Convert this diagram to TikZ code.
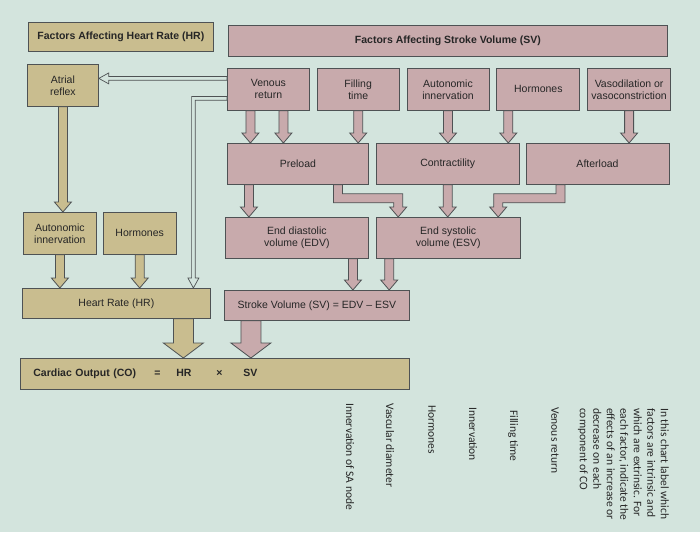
\documentclass[tikz,border=0pt]{standalone}
\usepackage{fontspec}
\setmainfont{Liberation Sans}
\newfontfamily\notefont{Carlito}
\usetikzlibrary{positioning,calc}
\definecolor{chartbg}{HTML}{D3E4DD}
\definecolor{hrtan}{HTML}{C9BD8F}
\definecolor{svpink}{HTML}{C8AAAC}
\definecolor{chartline}{HTML}{4E5254}
\definecolor{charttext}{HTML}{262626}

\tikzset{
  shaftw/.store in=\shaftw, headw/.store in=\headw, headl/.store in=\headl,
  shaftw=4.5pt, headw=8.5pt, headl=10pt,
}

\begin{document}
\begin{tikzpicture}[x=1pt, y=-1pt,
  hrbox/.style={draw=chartline, fill=hrtan, line width=0.8pt, inner sep=1pt, align=center, text=charttext, font=\fontsize{10.5}{12}\selectfont, minimum height=42pt},
  svbox/.style={hrbox, fill=svpink},
  headbox/.style={font=\fontsize{10.5}{12}\selectfont\bfseries},
  notetxt/.style={font=\notefont\fontsize{11.5}{13.5}\selectfont, text=charttext, inner sep=0pt, rotate=-90},
  blkarrow/.style={draw=chartline, line width=0.8pt, to path={let \p1=(\tikztostart), \p2=(\tikztotarget) in
    (\x1-\shaftw,\y1) -- (\x1-\shaftw,\y2+\headl) -- (\x1-\headw,\y2+\headl) -- (\x1,\y2) -- (\x1+\headw,\y2+\headl) -- (\x1+\shaftw,\y2+\headl) -- (\x1+\shaftw,\y1) -- cycle}},
  bendarrow/.style={draw=chartline, line width=0.8pt, to path={let \p1=(\tikztostart), \p2=(\tikztotarget), \n1={sign(\x2-\x1)} in
    ({\x1-(\n1)*\shaftw},\y1) -- ({\x1-(\n1)*\shaftw},\y1-13.5pt-\shaftw) -- ({\x2-(\n1)*\shaftw},\y1-13.5pt-\shaftw) -- ({\x2-(\n1)*\shaftw},\y2+\headl) -- ({\x2-(\n1)*\headw},\y2+\headl) -- (\x2,\y2) -- ({\x2+(\n1)*\headw},\y2+\headl) -- ({\x2+(\n1)*\shaftw},\y2+\headl) -- ({\x2+(\n1)*\shaftw},\y1-13.5pt+\shaftw) -- ({\x1+(\n1)*\shaftw},\y1-13.5pt+\shaftw) -- ({\x1+(\n1)*\shaftw},\y1) -- cycle}},
  thinarrow/.style={draw=chartline, fill=chartbg, line width=0.7pt, shaftw=1.8pt, headw=5.5pt, headl=10pt, to path={let \p1=(\tikztostart), \p2=(\tikztotarget) in
    (\x1,\y1+\shaftw) -- (\x2+\headl,\y1+\shaftw) -- (\x2+\headl,\y1+\headw) -- (\x2,\y1) -- (\x2+\headl,\y1-\headw) -- (\x2+\headl,\y1-\shaftw) -- (\x1,\y1-\shaftw) -- cycle}},
  turnarrow/.style={draw=chartline, fill=chartbg, line width=0.7pt, shaftw=1.8pt, headw=5.5pt, headl=10pt, to path={let \p1=(\tikztostart), \p2=(\tikztotarget) in
    (\x1,\y1+\shaftw) -- (\x2-\shaftw,\y1+\shaftw) -- (\x2-\shaftw,\y2+\headl) -- (\x2-\headw,\y2+\headl) -- (\x2,\y2) -- (\x2+\headw,\y2+\headl) -- (\x2+\shaftw,\y2+\headl) -- (\x2+\shaftw,\y1-\shaftw) -- (\x1,\y1-\shaftw) -- cycle}},
]
\useasboundingbox (0,0) rectangle (700,532);
\fill[chartbg] (0,0) rectangle (700,532);

% Titles
\node[hrbox, headbox, anchor=north west, minimum width=185pt, minimum height=29pt] (hrtitle) at (28,22) {Factors Affecting Heart Rate (HR)};
\node[svbox, headbox, anchor=north west, minimum width=439pt, minimum height=31pt] (svtitle) at (228,25) {Factors Affecting Stroke Volume (SV)};

% First row of factors
\node[hrbox, anchor=north west, minimum width=71pt] (atrial) at (27,64) {Atrial\\reflex};
\node[svbox, anchor=north west, minimum width=82pt] (venous) at (227,68) {Venous\\return};
\node[svbox, minimum width=82pt, right=7pt of venous] (filling) {Filling\\time};
\node[svbox, minimum width=82pt, right=7pt of filling] (autosv) {Autonomic\\innervation};
\node[svbox, minimum width=83pt, right=7pt of autosv] (hormsv) {Hormones};
\node[svbox, minimum width=83pt, right=7pt of hormsv] (vaso) {Vasodilation or\\vasoconstriction};

% Preload, contractility, afterload
\node[svbox, anchor=north west, minimum width=141pt, minimum height=41pt] (preload) at (227,143) {Preload};
\node[svbox, minimum width=143pt, minimum height=41pt, right=7pt of preload] (contract) {Contractility};
\node[svbox, minimum width=143pt, minimum height=41pt, right=6pt of contract] (afterload) {Afterload};

% Third row
\node[hrbox, anchor=north west, minimum width=73pt] (autohr) at (23,212) {Autonomic\\innervation};
\node[hrbox, minimum width=73pt, right=6pt of autohr] (hormhr) {Hormones};
\node[svbox, anchor=north west, minimum width=143pt, minimum height=41pt] (edv) at (225,217) {End diastolic\\volume (EDV)};
\node[svbox, minimum width=144pt, minimum height=41pt, right=7pt of edv] (esv) {End systolic\\volume (ESV)};

% HR, SV and CO
\node[hrbox, anchor=north west, minimum width=188pt, minimum height=30pt] (hr) at (22,288) {Heart Rate (HR)};
\node[svbox, anchor=north west, minimum width=185pt, minimum height=30pt] (sv) at (224,290) {Stroke Volume (SV) = EDV – ESV};
\node[hrbox, headbox, anchor=north west, minimum width=389pt, minimum height=31pt, text width=363pt, align=left] (co) at (20,358) {\makebox[121pt][l]{Cardiac Output (CO)}\makebox[22pt][l]{=}\makebox[40pt][l]{HR}\makebox[27pt][l]{×}SV};

% Block arrows, HR side
\draw[blkarrow, fill=hrtan] (atrial.south) to (autohr.north);
\draw[blkarrow, fill=hrtan] (autohr.south) to (hr.north);
\draw[blkarrow, fill=hrtan] (hormhr.south) to (hr.north);

% Block arrows, SV side
\draw[blkarrow, fill=svpink] ([xshift=-18pt]venous.south) to (preload.north);
\draw[blkarrow, fill=svpink] ([xshift=15pt]venous.south) to (preload.north);
\draw[blkarrow, fill=svpink] (filling.south) to (preload.north);
\draw[blkarrow, fill=svpink] (autosv.south) to (contract.north);
\draw[blkarrow, fill=svpink] ([xshift=-30pt]hormsv.south) to (contract.north);
\draw[blkarrow, fill=svpink] (vaso.south) to (afterload.north);
\draw[blkarrow, fill=svpink] ([xshift=-49pt]preload.south) to (edv.north);
\draw[bendarrow, fill=svpink] ([xshift=40pt]preload.south) to ([xshift=-50pt]esv.north);
\draw[blkarrow, fill=svpink] (contract.south) to (esv.north);
\draw[bendarrow, fill=svpink] ([xshift=-37pt]afterload.south) to ([xshift=50pt]esv.north);
\draw[blkarrow, fill=svpink] ([xshift=56pt]edv.south) to (sv.north);
\draw[blkarrow, fill=svpink] ([xshift=-59pt]esv.south) to (sv.north);

% Into cardiac output
\draw[blkarrow, fill=hrtan, shaftw=10pt, headw=20pt, headl=15pt] ([xshift=67pt]hr.south) to (co.north);
\draw[blkarrow, fill=svpink, shaftw=10pt, headw=20pt, headl=15pt] ([xshift=-66pt]sv.south) to (co.north);

% Thin arrows from venous return
\coordinate (vrtop) at ([yshift=11pt]venous.west);
\coordinate (vrlow) at ([yshift=-9pt]venous.west);
\draw[thinarrow] (vrtop) to (atrial.east);
\draw[turnarrow] (vrlow) to ([xshift=77pt]hr.north);

% Task text, turned
\node[notetxt, anchor=north west, align=left] (task) at (669,408) {In this chart label which\\factors are intrinsic and\\which are extrinsic. For\\each factor, indicate the\\effects of an increase or\\decrease on each\\component of CO};
\node[notetxt, anchor=west] (wvenous) at (555,407) {Venous return};
\node[notetxt, anchor=west] (wfilling) at (513,410) {Filling time};
\node[notetxt, anchor=west] (winnerv) at (473,407) {Innervation};
\node[notetxt, anchor=west] (whorm) at (432,405) {Hormones};
\node[notetxt, anchor=west] (wvasc) at (390,403) {Vascular diameter};
\node[notetxt, anchor=west] (wsanode) at (350,403) {Innervation of SA node};
\end{tikzpicture}
\end{document}
